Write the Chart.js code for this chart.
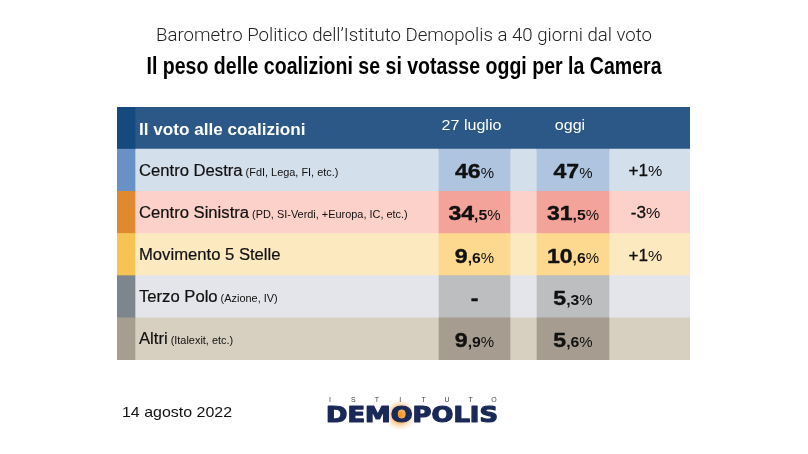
<!DOCTYPE html>
<html><head><meta charset="utf-8">
<script src="https://cdn.jsdelivr.net/npm/chart.js@4.4.1/dist/chart.umd.min.js"></script>
<style>html,body{margin:0;padding:0;background:#fff;}canvas{display:block;}</style>
</head><body>
<canvas id="c" width="808" height="454"></canvas>
<script>
// ---------- DATA ----------
const categories = ['Centro Destra', 'Centro Sinistra', 'Movimento 5 Stelle', 'Terzo Polo', 'Altri'];
const categoryNotes = ['(FdI, Lega, FI, etc.)', '(PD, SI-Verdi, +Europa, IC, etc.)', '', '(Azione, IV)', '(Italexit, etc.)'];
const columnLabels = ['Il voto alle coalizioni', '27 luglio', 'oggi'];
const votesJuly27 = [46, 34.5, 9.6, null, 9.9];
const votesToday = [47, 31.5, 10.6, 5.3, 5.6];
const changePoints = [1, -3, 1, null, null];
const titleText = 'Barometro Politico dell’Istituto Demopolis a 40 giorni dal voto';
const subtitleText = 'Il peso delle coalizioni se si votasse oggi per la Camera';
const dateText = '14 agosto 2022';
const logoTop = 'ISTITUTO';
const logoText = 'DEMOPOLIS';

// ---------- STYLE / LAYOUT ----------
const rowStyles = [
  { stripe: '#154a7f', bg: '#2c5887', cell: '#2c5887' },
  { stripe: '#6a91c5', bg: '#d4dfec', cell: '#afc4de' },
  { stripe: '#e08a30', bg: '#fbd1ca', cell: '#f3a399' },
  { stripe: '#f6c354', bg: '#fde9bf', cell: '#fcd98e' },
  { stripe: '#7c868c', bg: '#e4e5ea', cell: '#bdbebf' },
  { stripe: '#a69e91', bg: '#d7d0c1', cell: '#a69d90' }
];
const COL = { stripe: [0, 18], label: [18, 322], jul: [322, 393], gap: [393, 420], today: [420, 492], diff: [492, 573] };
const rowLabels = [columnLabels[0], ...categories];
const SANS = '"Liberation Sans", Arial, sans-serif';

// parts: [{text, font, color, sx?, stroke?}]
function run(ctx, parts, x, y, align, sx) {
  let total = 0;
  ctx.save();
  parts.forEach(p => { ctx.font = p.font; p.s = p.sx || sx; p.w = ctx.measureText(p.text).width * p.s; total += p.w; });
  const start = align === 'center' ? x - total / 2 : align === 'right' ? x - total : x;
  ctx.textBaseline = 'alphabetic';
  ctx.textAlign = 'left';
  let cx = start;
  parts.forEach(p => {
    ctx.save();
    ctx.translate(cx, y); ctx.scale(p.s, 1);
    ctx.font = p.font; ctx.fillStyle = p.color;
    ctx.fillText(p.text, 0, 0);
    if (p.stroke) { ctx.strokeStyle = p.color; ctx.lineWidth = p.stroke; ctx.lineJoin = 'round'; ctx.strokeText(p.text, 0, 0); }
    ctx.restore();
    cx += p.w;
  });
  ctx.restore();
  return total;
}
function fit(ctx, text, font, color, x, y, align, target, stroke) {
  ctx.save(); ctx.font = font; const w = ctx.measureText(text).width; ctx.restore();
  return run(ctx, [{ text, font, color, stroke }], x, y, align, target / w);
}

function valueParts(v, color) {
  const big = { font: 'bold 21px ' + SANS, color, sx: 1.1, stroke: 0.4 };
  if (v === null || v === undefined) return [Object.assign({ text: '-' }, big)];
  const s = v.toFixed(1).split('.');
  const parts = [Object.assign({ text: s[0] }, big)];
  if (s[1] !== '0') parts.push({ text: ',' + s[1], font: 'bold 15px ' + SANS, color, sx: 1.05 });
  parts.push({ text: '%', font: '15px ' + SANS, color, sx: 1.0 });
  return parts;
}

const tablePlugin = {
  id: 'tableText',
  afterDatasetsDraw(chart) {
    const ctx = chart.ctx, xs = chart.scales.x, ys = chart.scales.y;
    const cx = c => (xs.getPixelForValue(c[0]) + xs.getPixelForValue(c[1])) / 2;
    // titles
    fit(ctx, titleText, '300 18px Roboto, ' + SANS, '#222', 404, 41, 'center', 496);
    fit(ctx, subtitleText, 'bold 23px "Liberation Sans Narrow", ' + SANS, '#000', 404, 74, 'center', 515);
    // header
    const y0 = ys.getPixelForValue(0);
    run(ctx, [{ text: columnLabels[0], font: 'bold 16px ' + SANS, color: '#fff' }], xs.getPixelForValue(COL.label[0]) + 4, y0 + 7, 'left', 1.07);
    run(ctx, [{ text: columnLabels[1], font: '15px ' + SANS, color: '#fff' }], cx(COL.jul) - 3, y0 + 2, 'center', 1.07);
    run(ctx, [{ text: columnLabels[2], font: '15px ' + SANS, color: '#fff' }], cx(COL.today) - 3, y0 + 2, 'center', 1.07);
    // rows
    categories.forEach((name, i) => {
      const yc = ys.getPixelForValue(i + 1);
      const lx = xs.getPixelForValue(COL.label[0]) + 4;
      const w = run(ctx, [{ text: name, font: '16px ' + SANS, color: '#111', stroke: 0.2 }], lx, yc + 5.5, 'left', 1.04);
      if (categoryNotes[i]) run(ctx, [{ text: categoryNotes[i], font: '10.5px ' + SANS, color: '#111' }], lx + w + 3, yc + 5.5, 'left', 1.04);
      run(ctx, valueParts(votesJuly27[i], '#111'), cx(COL.jul), yc + 8, 'center', 1);
      run(ctx, valueParts(votesToday[i], '#111'), cx(COL.today), yc + 8, 'center', 1);
      const d = changePoints[i];
      if (d !== null) {
        run(ctx, [{ text: (d > 0 ? '+' : '') + d, font: '16px ' + SANS, color: '#111', stroke: 0.3 }, { text: '%', font: '15px ' + SANS, color: '#111' }], cx(COL.diff) - 4, yc + 6, 'center', 1.07);
      }
    });
    // footer
    fit(ctx, dateText, '15px ' + SANS, '#111', 122, 417, 'left', 110);
    // logo glow
    const gx = 400, gy = 415;
    const g = ctx.createRadialGradient(gx, gy, 1, gx, gy, 16);
    g.addColorStop(0, 'rgba(245,150,30,1)');
    g.addColorStop(0.45, 'rgba(242,165,70,0.7)');
    g.addColorStop(1, 'rgba(255,225,180,0)');
    ctx.save(); ctx.fillStyle = g; ctx.beginPath(); ctx.arc(gx, gy, 16, 0, Math.PI * 2); ctx.fill(); ctx.restore();
    fit(ctx, logoText, 'bold 21px "DejaVu Sans", ' + SANS, '#1b2959', 326, 422, 'left', 172, 1.2);
    const letters = logoTop.split('');
    letters.forEach((ch, k) => {
      const lxp = 330 + k * (494 - 330) / (letters.length - 1);
      ctx.save(); ctx.font = '7px ' + SANS; ctx.fillStyle = '#444'; ctx.textAlign = 'center'; ctx.textBaseline = 'alphabetic';
      ctx.fillText(ch, lxp, 402); ctx.restore();
    });
  }
};

new Chart(document.getElementById('c'), {
  type: 'bar',
  data: {
    labels: rowLabels,
    datasets: [
      { label: '27 luglio', data: rowLabels.map(() => COL.jul), backgroundColor: rowStyles.map(s => s.cell), order: 0 },
      { label: 'oggi', data: rowLabels.map(() => COL.today), backgroundColor: rowStyles.map(s => s.cell), order: 0 },
      { label: 'stripe', data: rowLabels.map(() => COL.stripe), backgroundColor: rowStyles.map(s => s.stripe), order: 1 },
      { label: 'row', data: rowLabels.map(() => [COL.stripe[1], COL.diff[1]]), backgroundColor: rowStyles.map(s => s.bg), order: 2 }
    ]
  },
  options: {
    responsive: false, animation: false, devicePixelRatio: 1,
    indexAxis: 'y',
    layout: { padding: { left: 117, right: 118, top: 107, bottom: 94 } },
    plugins: { legend: { display: false }, tooltip: { enabled: false }, title: { display: false } },
    scales: {
      x: { type: 'linear', min: 0, max: 573, display: false },
      y: { type: 'category', display: false }
    },
    datasets: { bar: { grouped: false, barPercentage: 1, categoryPercentage: 1, borderWidth: 0, borderSkipped: false } }
  },
  plugins: [tablePlugin]
});
</script>
</body></html>
